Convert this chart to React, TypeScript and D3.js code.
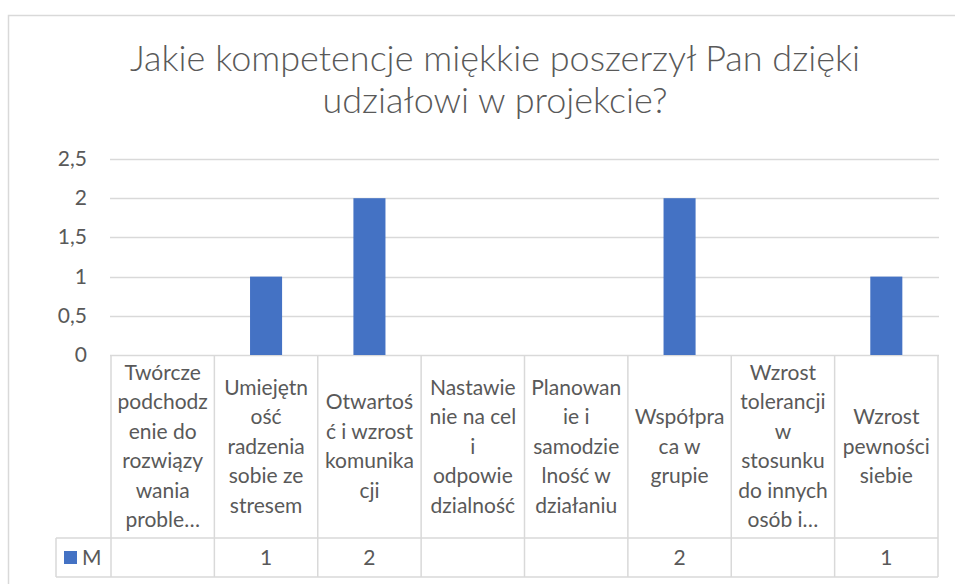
import React, { useEffect, useRef } from "react";
import * as d3 from "d3";

const title = ["Jakie kompetencje miękkie poszerzył Pan dzięki", "udziałowi w projekcie?"];

const categories = [
  "Twórcze podchodzenie do rozwiązywania problemów",
  "Umiejętność radzenia sobie ze stresem",
  "Otwartość i wzrost komunikacji",
  "Nastawienie na cel i odpowiedzialność",
  "Planowanie i samodzielność w działaniu",
  "Współpraca w grupie",
  "Wzrost tolerancji w stosunku do innych osób i...",
  "Wzrost pewności siebie",
];

// label lines as wrapped in the picture
const categoryLines = [
  ["Twórcze", "podchodz", "enie do", "rozwiązy", "wania", "proble…"],
  ["Umiejętn", "ość", "radzenia", "sobie ze", "stresem"],
  ["Otwartoś", "ć i wzrost", "komunika", "cji"],
  ["Nastawie", "nie na cel", "i", "odpowie", "dzialność"],
  ["Planowan", "ie i", "samodzie", "lność w", "działaniu"],
  ["Współpra", "ca w", "grupie"],
  ["Wzrost", "tolerancji", "w", "stosunku", "do innych", "osób i…"],
  ["Wzrost", "pewności", "siebie"],
];

const seriesName = "M";
const values: (number | null)[] = [null, 1, 2, null, null, 2, null, 1];
const yTicks = [0, 0.5, 1, 1.5, 2, 2.5];

export default function App() {
  const ref = useRef<SVGSVGElement>(null);

  useEffect(() => {
    const W = 955,
      H = 584;
    const left = 111,
      right = 938,
      top = 159,
      bottom = 355;
    const rowBottom = 538,
      tableBottom = 577,
      legendLeft = 56;
    const grey = "#d9d9d9";
    const text = "#595959";
    const blue = "#4472C4";
    const font = "Lato, Carlito, Calibri, sans-serif";

    const svg = d3.select(ref.current);
    svg.selectAll("*").remove();
    svg.attr("width", W).attr("height", H);

    svg
      .append("rect")
      .attr("x", 8.5)
      .attr("y", 15.5)
      .attr("width", W)
      .attr("height", H)
      .attr("fill", "white")
      .attr("stroke", grey)
      .attr("stroke-width", 1.5);

    // title
    svg
      .append("g")
      .selectAll("text")
      .data(title)
      .join("text")
      .attr("x", 495)
      .attr("y", (d, i) => 71 + i * 42)
      .attr("text-anchor", "middle")
      .attr("font-family", font)
      .attr("font-weight", 300)
      .attr("font-size", 36)
      .attr("fill", text)
      .text((d) => d);

    const x = d3.scaleBand().domain(categories).range([left, right]).padding(0);
    const y = d3.scaleLinear().domain([0, 2.5]).range([bottom, top]);
    const fmt = (v: number) => String(v).replace(".", ",");

    // gridlines
    svg
      .append("g")
      .selectAll("line")
      .data(yTicks)
      .join("line")
      .attr("x1", left - 1)
      .attr("x2", right + 1)
      .attr("y1", (d) => Math.round(y(d)) + 0.5)
      .attr("y2", (d) => Math.round(y(d)) + 0.5)
      .attr("stroke", grey)
      .attr("stroke-width", 1.5);

    svg
      .append("g")
      .selectAll("text")
      .data(yTicks)
      .join("text")
      .attr("x", 87)
      .attr("y", (d) => y(d) + 7)
      .attr("text-anchor", "end")
      .attr("font-family", font)
      .attr("font-size", 21)
      .attr("fill", text)
      .text((d) => fmt(d));

    // bars
    const bw = x.bandwidth() * 0.31;
    svg
      .append("g")
      .selectAll("rect")
      .data(categories.map((c, i) => ({ c, v: values[i] })).filter((d) => d.v != null))
      .join("rect")
      .attr("x", (d) => x(d.c)! + x.bandwidth() / 2 - bw / 2)
      .attr("y", (d) => y(d.v as number))
      .attr("width", bw)
      .attr("height", (d) => y(0) - y(d.v as number))
      .attr("fill", blue);

    // data table
    const table = svg.append("g").attr("stroke", grey).attr("stroke-width", 1.5);
    categories.forEach((c) => {
      table
        .append("line")
        .attr("x1", x(c)!)
        .attr("x2", x(c)!)
        .attr("y1", bottom)
        .attr("y2", tableBottom);
    });
    table.append("line").attr("x1", right).attr("x2", right).attr("y1", bottom).attr("y2", tableBottom);
    table.append("line").attr("x1", legendLeft).attr("x2", legendLeft).attr("y1", rowBottom).attr("y2", tableBottom);
    table.append("line").attr("x1", legendLeft).attr("x2", right).attr("y1", rowBottom).attr("y2", rowBottom);
    table.append("line").attr("x1", legendLeft).attr("x2", right).attr("y1", tableBottom).attr("y2", tableBottom);

    const lh = 29.5;
    const mid = (bottom + rowBottom) / 2;
    const labels = svg
      .append("g")
      .attr("font-family", font)
      .attr("font-size", 21)
      .attr("fill", text)
      .attr("text-anchor", "middle");
    categories.forEach((c, i) => {
      const lines = categoryLines[i];
      const start = mid - ((lines.length - 1) * lh) / 2;
      labels
        .append("text")
        .selectAll("tspan")
        .data(lines)
        .join("tspan")
        .attr("x", x(c)! + x.bandwidth() / 2)
        .attr("y", (d, j) => start + j * lh + 7)
        .text((d) => d);
    });

    const rowMid = (rowBottom + tableBottom) / 2;
    svg
      .append("g")
      .selectAll("text")
      .data(categories.map((c, i) => ({ c, v: values[i] })).filter((d) => d.v != null))
      .join("text")
      .attr("x", (d) => x(d.c)! + x.bandwidth() / 2)
      .attr("y", rowMid + 7)
      .attr("text-anchor", "middle")
      .attr("font-family", font)
      .attr("font-size", 21)
      .attr("fill", text)
      .text((d) => fmt(d.v as number));

    // legend key
    svg
      .append("rect")
      .attr("x", 64)
      .attr("y", rowMid - 6.5)
      .attr("width", 13)
      .attr("height", 13)
      .attr("fill", blue);
    svg
      .append("text")
      .attr("x", 82)
      .attr("y", rowMid + 7)
      .attr("font-family", font)
      .attr("font-size", 21)
      .attr("fill", text)
      .text(seriesName);
  }, []);

  return <svg ref={ref} style={{ position: "absolute", left: 0, top: 0 }}></svg>;
}
